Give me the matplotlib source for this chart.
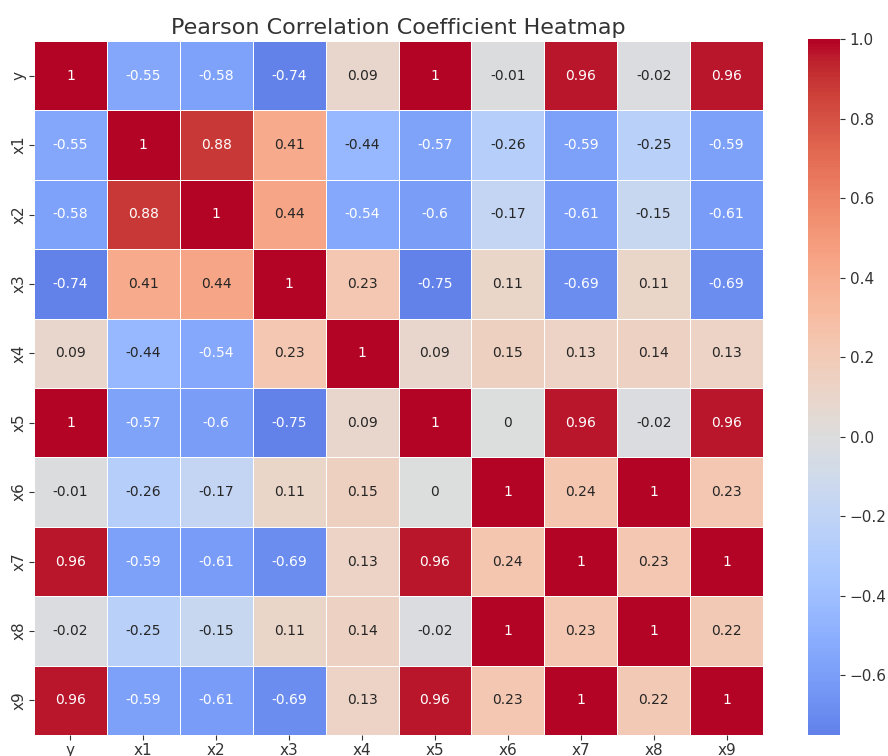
import matplotlib
matplotlib.use("Agg")
import matplotlib.pyplot as plt
import seaborn as sns
import numpy as np
import pandas as pd

labels = ["y", "x1", "x2", "x3", "x4", "x5", "x6", "x7", "x8", "x9"]
row_y  = [1, -0.55, -0.58, -0.74, 0.09, 1, -0.01, 0.96, -0.02, 0.96]
row_x1 = [-0.55, 1, 0.88, 0.41, -0.44, -0.57, -0.26, -0.59, -0.25, -0.59]
row_x2 = [-0.58, 0.88, 1, 0.44, -0.54, -0.6, -0.17, -0.61, -0.15, -0.61]
row_x3 = [-0.74, 0.41, 0.44, 1, 0.23, -0.75, 0.11, -0.69, 0.11, -0.69]
row_x4 = [0.09, -0.44, -0.54, 0.23, 1, 0.09, 0.15, 0.13, 0.14, 0.13]
row_x5 = [1, -0.57, -0.6, -0.75, 0.09, 1, 0, 0.96, -0.02, 0.96]
row_x6 = [-0.01, -0.26, -0.17, 0.11, 0.15, 0, 1, 0.24, 1, 0.23]
row_x7 = [0.96, -0.59, -0.61, -0.69, 0.13, 0.96, 0.24, 1, 0.23, 1]
row_x8 = [-0.02, -0.25, -0.15, 0.11, 0.14, -0.02, 1, 0.23, 1, 0.22]
row_x9 = [0.96, -0.59, -0.61, -0.69, 0.13, 0.96, 0.23, 1, 0.22, 1]

corr = pd.DataFrame([row_y, row_x1, row_x2, row_x3, row_x4,
                     row_x5, row_x6, row_x7, row_x8, row_x9],
                    index=labels, columns=labels)

W, H = 888, 756
fig = plt.figure(figsize=(W / 100, H / 100), dpi=100)
ax = fig.add_axes([34 / W, 1 - 735 / H, 729 / W, 694 / H])
cax = fig.add_axes([808 / W, 1 - 735 / H, 32 / W, 696 / H])

sns.heatmap(corr, annot=True, fmt="g", cmap="coolwarm", center=0,
            linewidths=0.5, linecolor="white", ax=ax, cbar_ax=cax,
            annot_kws={"fontsize": 10})
ax.set_title("Pearson Correlation Coefficient Heatmap", fontsize=16,
             color="#333333", pad=5)
ax.tick_params(axis="both", labelsize=11, pad=2, colors="#333333")
cax.tick_params(labelsize=11, colors="#333333")
cax.set_yticks([-0.6, -0.4, -0.2, 0.0, 0.2, 0.4, 0.6, 0.8, 1.0])
for c in cax.spines.values():
    c.set_visible(False)

fig.savefig("out.png", dpi=100)
